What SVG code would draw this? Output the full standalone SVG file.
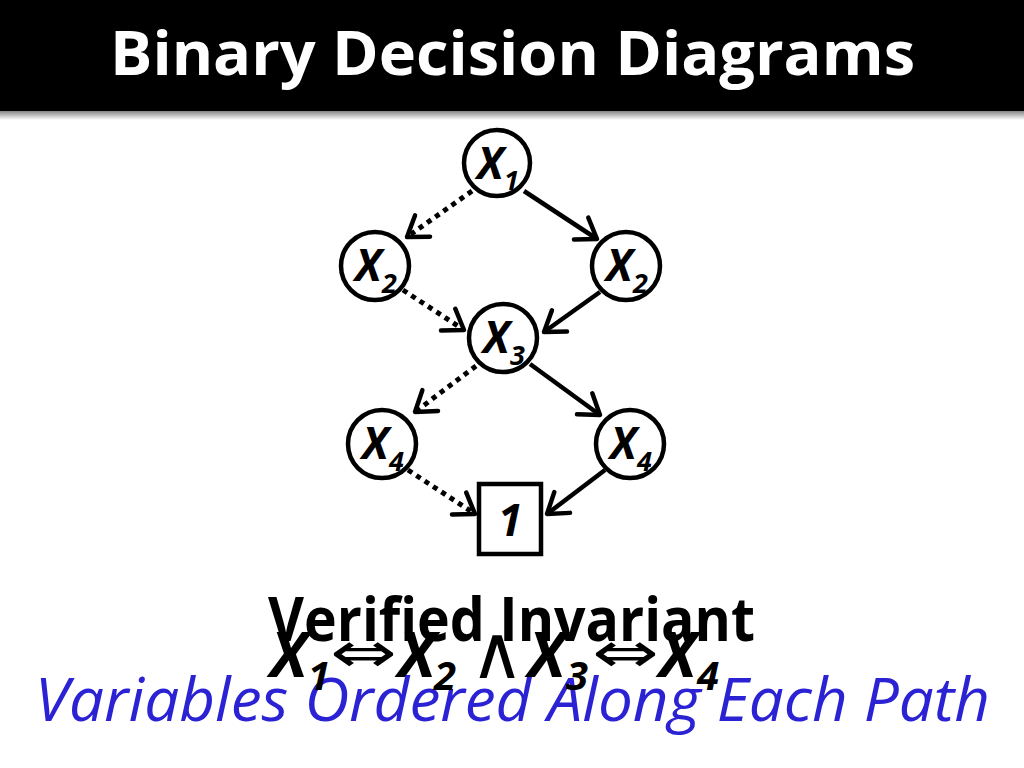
<svg xmlns="http://www.w3.org/2000/svg" width="1024" height="768" viewBox="0 0 1024 768">
<defs>
<linearGradient id="shadow" x1="0" y1="0" x2="0" y2="1">
<stop offset="0" stop-color="#777"/>
<stop offset="1" stop-color="#fff"/>
</linearGradient>
<marker id="arr" markerUnits="userSpaceOnUse" markerWidth="32" markerHeight="32" viewBox="-26 -16 30 32" refX="0" refY="0" orient="auto">
<path d="M-19,-13 L0,0 L-19,13" fill="none" stroke="#000" stroke-width="4.5" stroke-linecap="round" stroke-linejoin="round" stroke-dasharray="none"/>
</marker>
</defs>
<style>
.node{fill:#fff;stroke:#000;stroke-width:4.5}
.var{font-family:"Open Sans","Noto Sans",sans-serif;font-weight:bold;font-style:italic;font-size:44px;fill:#000}
.sub{font-family:"Open Sans","Noto Sans",sans-serif;font-weight:bold;font-style:italic;font-size:27px;fill:#000}
.solid{stroke:#000;stroke-width:4.5;fill:none;marker-end:url(#arr)}
.dot{stroke:#000;stroke-width:5;fill:none;stroke-dasharray:5 5;marker-end:url(#arr)}
.big{font-family:"Open Sans","Noto Sans",sans-serif;font-weight:bold;font-size:60px;fill:#000}
.bigx{font-family:"Open Sans","Noto Sans",sans-serif;font-weight:bold;font-style:italic;font-size:62px;fill:#000}
.bigsub{font-family:"Open Sans","Noto Sans",sans-serif;font-weight:bold;font-style:italic;font-size:40px;fill:#000}
.sym{font-family:"DejaVu Sans",sans-serif;font-size:56px;fill:#000}
</style>
<rect x="0" y="0" width="1024" height="768" fill="#fff"/>
<rect x="0" y="110" width="1024" height="10" fill="url(#shadow)"/>
<rect x="0" y="0" width="1024" height="111" fill="#000"/>
<text x="110" y="75" textLength="805" lengthAdjust="spacingAndGlyphs" font-family="Open Sans, Noto Sans, sans-serif" font-weight="bold" font-size="60" fill="#fff">Binary Decision Diagrams</text>

<g id="connectors">
<line class="dot" x1="472" y1="191" x2="407" y2="237"/>
<line class="solid" x1="524" y1="191" x2="597" y2="239"/>
<line class="dot" x1="403" y1="290" x2="464" y2="330"/>
<line class="solid" x1="600" y1="292" x2="544" y2="332"/>
<line class="dot" x1="476" y1="366" x2="415" y2="412"/>
<line class="solid" x1="530" y1="364" x2="600" y2="415"/>
<line class="dot" x1="408" y1="470" x2="475" y2="514"/>
<line class="solid" x1="605" y1="470" x2="547" y2="514"/>
</g>

<g id="n_x1">
<circle class="node" cx="497" cy="163" r="33"/>
<text class="var" x="477" y="179">X</text><text class="sub" x="504" y="190">1</text>
</g>
<g id="n_x2l">
<circle class="node" cx="375" cy="266" r="34"/>
<text class="var" x="355" y="281">X</text><text class="sub" x="382" y="293">2</text>
</g>
<g id="n_x2r">
<circle class="node" cx="626" cy="266" r="34"/>
<text class="var" x="606" y="281">X</text><text class="sub" x="633" y="293">2</text>
</g>
<g id="n_x3">
<circle class="node" cx="503" cy="338" r="34"/>
<text class="var" x="483" y="353">X</text><text class="sub" x="510" y="365">3</text>
</g>
<g id="n_x4l">
<circle class="node" cx="382" cy="444" r="34"/>
<text class="var" x="362" y="459">X</text><text class="sub" x="389" y="471">4</text>
</g>
<g id="n_x4r">
<circle class="node" cx="630" cy="444" r="34"/>
<text class="var" x="610" y="459">X</text><text class="sub" x="637" y="471">4</text>
</g>
<g id="n_one">
<rect class="node" x="479" y="484" width="62" height="70"/>
<text class="var" x="510" y="536" text-anchor="middle" font-size="46">1</text>
</g>

<g id="captions">
<text x="35" y="721" textLength="955" lengthAdjust="spacingAndGlyphs" font-family="Open Sans, Noto Sans, sans-serif" font-style="italic" font-size="60" fill="#2b22d4">Variables Ordered Along Each Path</text>
<text class="big" x="268" y="641" textLength="487" lengthAdjust="spacingAndGlyphs">Verified Invariant</text>
<text class="bigx" x="270" y="677">X</text><text class="bigsub" x="308" y="690">1</text>
<text class="sym" x="330" y="672" textLength="67" lengthAdjust="spacingAndGlyphs">⇔</text>
<text class="bigx" x="398" y="677">X</text><text class="bigsub" x="434" y="690">2</text>
<text x="497" y="678" text-anchor="middle" font-family="DejaVu Sans, sans-serif" font-size="74" fill="#000">∧</text>
<text class="bigx" x="528" y="677">X</text><text class="bigsub" x="566" y="690">3</text>
<text class="sym" x="592" y="672" textLength="67" lengthAdjust="spacingAndGlyphs">⇔</text>
<text class="bigx" x="659" y="677">X</text><text class="bigsub" x="697" y="690">4</text>
</g>
</svg>
